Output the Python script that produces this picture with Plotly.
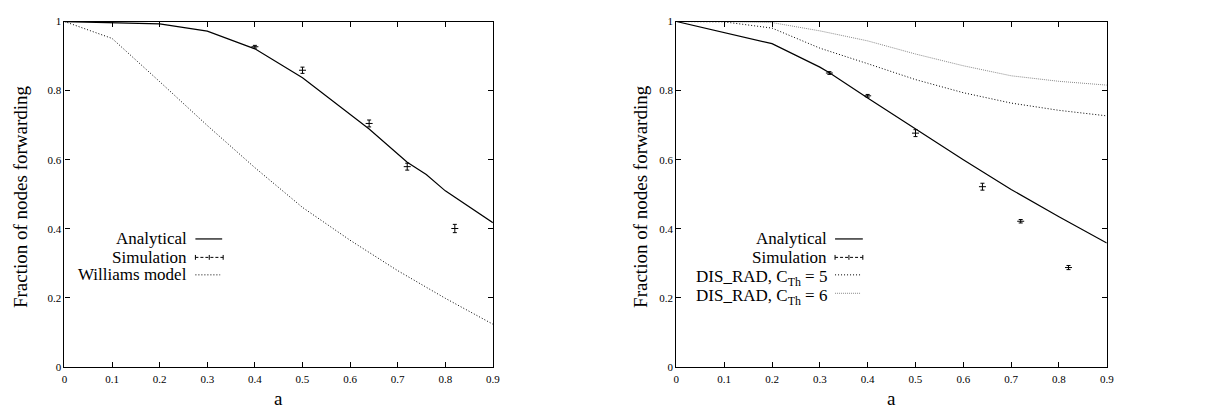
import plotly.graph_objects as go

W, H = 1207, 408

# ---- Left panel data ----
left_analytical_x = [0, 0.1, 0.2, 0.3, 0.4, 0.5, 0.64, 0.72, 0.76, 0.8, 0.9]
left_analytical_y = [1.0, 0.997, 0.993, 0.972, 0.921, 0.837, 0.689, 0.593, 0.557, 0.51, 0.418]

left_sim_x = [0.4, 0.5, 0.64, 0.72, 0.82]
left_sim_y = [0.927, 0.859, 0.705, 0.58, 0.401]
left_sim_err = [0.004, 0.009, 0.01, 0.01, 0.012]

williams_x = [0, 0.1, 0.2, 0.3, 0.4, 0.5, 0.6, 0.7, 0.8, 0.9]
williams_y = [1.0, 0.951, 0.826, 0.699, 0.577, 0.462, 0.367, 0.279, 0.199, 0.124]

# ---- Right panel data ----
right_analytical_x = [0, 0.1, 0.2, 0.3, 0.32, 0.4, 0.5, 0.6, 0.7, 0.8, 0.9]
right_analytical_y = [1.0, 0.968, 0.936, 0.868, 0.852, 0.779, 0.689, 0.6, 0.514, 0.435, 0.359]

right_sim_x = [0.32, 0.4, 0.5, 0.64, 0.72, 0.82]
right_sim_y = [0.851, 0.785, 0.677, 0.522, 0.422, 0.288]
right_sim_err = [0.004, 0.004, 0.01, 0.01, 0.005, 0.006]

dis5_x = [0, 0.1, 0.2, 0.3, 0.4, 0.5, 0.6, 0.7, 0.8, 0.9]
dis5_y = [1.0, 0.999, 0.981, 0.923, 0.878, 0.832, 0.794, 0.764, 0.743, 0.727]

dis6_x = [0, 0.1, 0.2, 0.3, 0.4, 0.5, 0.6, 0.7, 0.8, 0.9]
dis6_y = [1.0, 1.0, 0.997, 0.973, 0.944, 0.906, 0.872, 0.843, 0.827, 0.816]

x_ticks = [0, 0.1, 0.2, 0.3, 0.4, 0.5, 0.6, 0.7, 0.8, 0.9]
x_tick_labels = ["0", "0.1", "0.2", "0.3", "0.4", "0.5", "0.6", "0.7", "0.8", "0.9"]
y_ticks = [0, 0.2, 0.4, 0.6, 0.8, 1.0]
y_tick_labels = ["0", "0.2", "0.4", "0.6", "0.8", "1"]

FONT = "Liberation Serif"

fig = go.Figure()

# Left panel traces
fig.add_trace(go.Scatter(x=left_analytical_x, y=left_analytical_y, mode="lines",
                         line=dict(color="black", width=1.2), xaxis="x", yaxis="y"))
fig.add_trace(go.Scatter(x=left_sim_x, y=left_sim_y, mode="markers",
                         marker=dict(symbol="line-ew", size=5, color="black",
                                     line=dict(color="black", width=1)),
                         error_y=dict(type="data", array=left_sim_err, color="black",
                                      thickness=1, width=2),
                         xaxis="x", yaxis="y"))
fig.add_trace(go.Scatter(x=williams_x, y=williams_y, mode="lines",
                         line=dict(color="black", width=1, dash="1px,2px"), xaxis="x", yaxis="y"))

# Right panel traces
fig.add_trace(go.Scatter(x=right_analytical_x, y=right_analytical_y, mode="lines",
                         line=dict(color="black", width=1.2), xaxis="x2", yaxis="y2"))
fig.add_trace(go.Scatter(x=right_sim_x, y=right_sim_y, mode="markers",
                         marker=dict(symbol="line-ew", size=5, color="black",
                                     line=dict(color="black", width=1)),
                         error_y=dict(type="data", array=right_sim_err, color="black",
                                      thickness=1, width=2),
                         xaxis="x2", yaxis="y2"))
fig.add_trace(go.Scatter(x=dis5_x, y=dis5_y, mode="lines",
                         line=dict(color="black", width=1, dash="1px,2px"), xaxis="x2", yaxis="y2"))
fig.add_trace(go.Scatter(x=dis6_x, y=dis6_y, mode="lines",
                         line=dict(color="#8a8a8a", width=1, dash="1px,1px"), xaxis="x2", yaxis="y2"))

y0p, y1p = 1 - 372 / H, 1 - 16 / H
dom_left = [62 / W, 494 / W]
dom_right = [679 / W, 1113 / W]

axis_common = dict(
    showgrid=False, zeroline=False, showline=True, linecolor="black", linewidth=1.2,
    mirror="allticks", ticks="inside", ticklen=5, tickcolor="black", tickwidth=1,
    tickfont=dict(family=FONT, size=11, color="black"),
)
xax = dict(axis_common, range=[0, 0.9], tickvals=x_ticks, ticktext=x_tick_labels,
           ticklabelstandoff=2)
yax = dict(axis_common, range=[0, 1], tickvals=y_ticks, ticktext=y_tick_labels)

fig.update_layout(
    width=W, height=H, margin=dict(l=0, r=0, t=0, b=0),
    paper_bgcolor="white", plot_bgcolor="white", showlegend=False,
    font=dict(family=FONT, color="black", size=16),
    xaxis=dict(xax, domain=dom_left, anchor="y"),
    yaxis=dict(yax, domain=[y0p, y1p], anchor="x"),
    xaxis2=dict(xax, domain=dom_right, anchor="y2"),
    yaxis2=dict(yax, domain=[y0p, y1p], anchor="x2"),
)

annotations = []
shapes = []

# Axis titles
for xc, yt_x in [((62 + 494) / 2, 17), ((679 + 1113) / 2, 643)]:
    annotations.append(dict(text="a", x=xc / W, y=1 - 404 / H, xref="paper", yref="paper",
                            showarrow=False, font=dict(family=FONT, size=19, color="black"),
                            xanchor="center", yanchor="middle"))
    annotations.append(dict(text="Fraction of nodes forwarding", x=yt_x / W, y=1 - 196 / H,
                            xref="paper", yref="paper", textangle=-90, showarrow=False,
                            font=dict(family=FONT, size=19, color="black"),
                            xanchor="center", yanchor="middle"))

# Legends (text right-aligned, line sample to the right)
def legend_entry(text, text_right, y_px, line_x0, line_x1, style, has_sub=False):
    if has_sub:
        ann_y, anchor = 1 - (y_px - 10) / H, "top"
    else:
        ann_y, anchor = 1 - y_px / H, "middle"
    annotations.append(dict(text=text, x=text_right / W, y=ann_y, xref="paper", yref="paper",
                            showarrow=False, font=dict(family=FONT, size=17, color="black"),
                            xanchor="right", yanchor=anchor))
    shapes.append(dict(type="line", xref="paper", yref="paper",
                       x0=line_x0 / W, x1=line_x1 / W, y0=1 - y_px / H, y1=1 - y_px / H,
                       line=style))

solid = dict(color="black", width=1.2)
sim_style = dict(color="black", width=1, dash="3px,2px")
dotted = dict(color="black", width=1, dash="1px,2px")
gray = dict(color="#8a8a8a", width=1, dash="1px,1px")

legend_entry("Analytical", 188, 240, 194, 221, solid)
legend_entry("Simulation", 188, 259, 194, 222, sim_style)
legend_entry("Williams model", 188, 277, 194, 219, dotted)

legend_entry("Analytical", 833, 240, 839, 867, solid)
legend_entry("Simulation", 833, 259, 839, 867, sim_style)
legend_entry("DIS_RAD, C<sub>Th</sub> = 5", 833, 277, 839, 865, dotted, has_sub=True)
legend_entry("DIS_RAD, C<sub>Th</sub> = 6", 833, 296, 839, 865, gray, has_sub=True)

# small caps/plus for simulation legend samples
for xl, xr in [(194, 222), (839, 867)]:
    ym = 1 - 259 / H
    for xv in [xl, (xl + xr) / 2, xr]:
        shapes.append(dict(type="line", xref="paper", yref="paper",
                           x0=xv / W, x1=xv / W, y0=ym - 2.5 / H, y1=ym + 2.5 / H,
                           line=dict(color="black", width=1)))

fig.update_layout(annotations=annotations, shapes=shapes)

fig.write_html("out.html")
